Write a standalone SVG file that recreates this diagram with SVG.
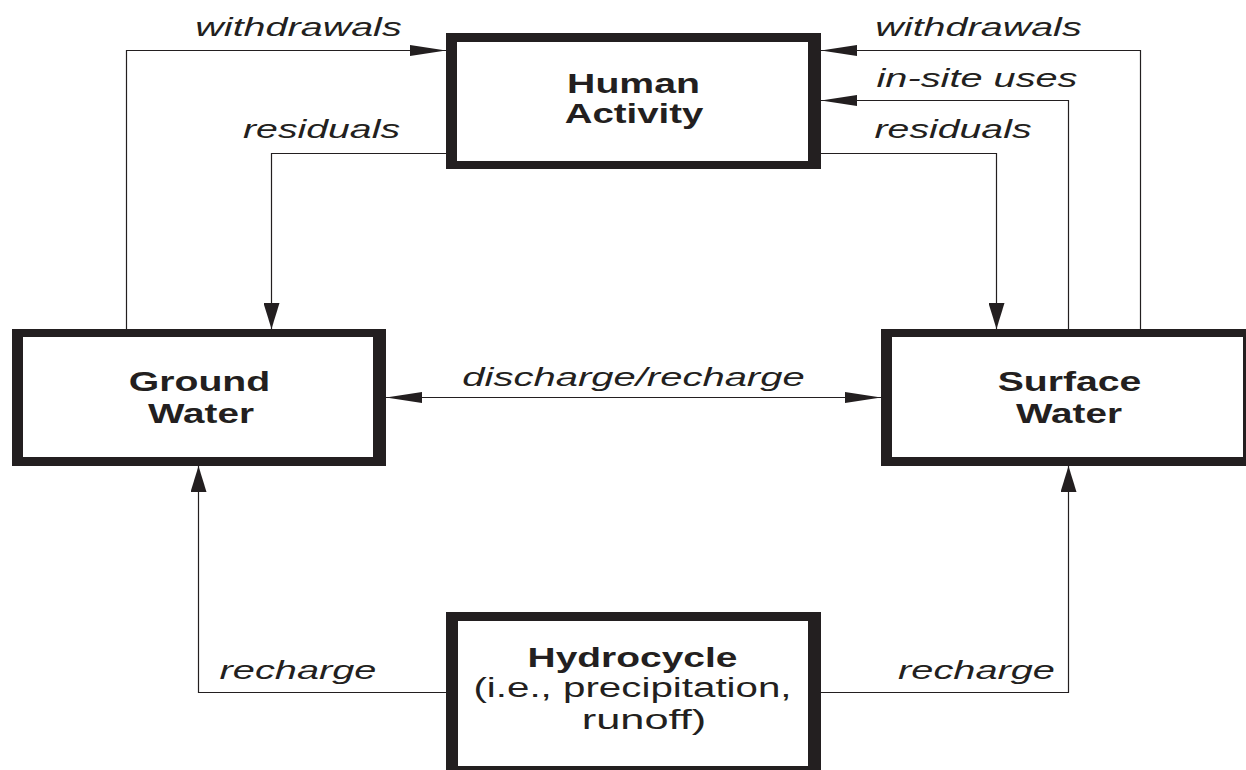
<svg xmlns="http://www.w3.org/2000/svg" width="1246" height="770" viewBox="0 0 1246 770">
<defs>
<style>
.box{fill:#231f20;fill-rule:evenodd}
text{text-anchor:middle;fill:#231f20;font-family:"Liberation Sans",Arial,Helvetica,sans-serif}
.lbl{font-style:italic;font-size:25px}
.bt{font-weight:bold;font-size:28px}
.rt{font-size:28px}
.c{fill:none;stroke:#231f20;stroke-width:1.2}
</style>
<marker id="ah" markerUnits="userSpaceOnUse" markerWidth="36" markerHeight="12" refX="36" refY="6" orient="auto-start-reverse">
<path d="M0,0.5 L36,6 L0,11.5 Z" fill="#231f20"/>
</marker>
<marker id="av" markerUnits="userSpaceOnUse" markerWidth="26" markerHeight="16" refX="26" refY="8" orient="auto">
<path d="M0,0 L26,8 L0,16 Z" fill="#231f20"/>
</marker>
</defs>
<rect width="1246" height="770" fill="#fff"/>

<g id="connectors">
<path class="c" d="M126.5,329 V50.5 H446" marker-end="url(#ah)"/>
<path class="c" d="M446,153.5 H271.5 V329" marker-end="url(#av)"/>
<path class="c" d="M1140.5,329 V50.5 H821" marker-end="url(#ah)"/>
<path class="c" d="M1068.5,329 V100.5 H821" marker-end="url(#ah)"/>
<path class="c" d="M821,153.5 H996.5 V329" marker-end="url(#av)"/>
<path class="c" d="M386,397.5 H881" marker-start="url(#ah)" marker-end="url(#ah)"/>
<path class="c" d="M446,692.5 H198.5 V466" marker-end="url(#av)"/>
<path class="c" d="M821,692.5 H1068.5 V466" marker-end="url(#av)"/>
<text class="lbl" transform="translate(298.5,36) scale(1.58,1)">withdrawals</text>
<text class="lbl" transform="translate(321.5,138) scale(1.57,1)">residuals</text>
<text class="lbl" transform="translate(978.5,36) scale(1.58,1)">withdrawals</text>
<text class="lbl" transform="translate(977,87) scale(1.59,1)">in-site uses</text>
<text class="lbl" transform="translate(953,138) scale(1.57,1)">residuals</text>
<text class="lbl" transform="translate(633.5,386) scale(1.6,1)">discharge/recharge</text>
<text class="lbl" transform="translate(298,679) scale(1.59,1)">recharge</text>
<text class="lbl" transform="translate(976.5,679) scale(1.59,1)">recharge</text>
</g>

<g id="human-activity">
<path class="box" d="M446,33 H821 V169 H446 Z M457,42 V161 H808 V42 Z"/>
<text class="bt" transform="translate(633.5,93) scale(1.4,1)">Human</text>
<text class="bt" transform="translate(634,123) scale(1.37,1)">Activity</text>
</g>

<g id="ground-water">
<path class="box" d="M12,329 H386 V466 H12 Z M23,337 V457 H373 V337 Z"/>
<text class="bt" transform="translate(199.5,391) scale(1.4,1)">Ground</text>
<text class="bt" transform="translate(201,423) scale(1.38,1)">Water</text>
</g>

<g id="surface-water">
<path class="box" d="M881,329 H1256 V466 H881 Z M892,337 V457 H1243 V337 Z"/>
<text class="bt" transform="translate(1069.5,391) scale(1.4,1)">Surface</text>
<text class="bt" transform="translate(1069,423) scale(1.38,1)">Water</text>
</g>

<g id="hydrocycle">
<path class="box" d="M446,612 H821 V776 H446 Z M458,621 V766 H808 V621 Z"/>
<text class="bt" transform="translate(632.5,667) scale(1.39,1)">Hydrocycle</text>
<text class="rt" transform="translate(632.5,697) scale(1.44,1)">(i.e., precipitation,</text>
<text class="rt" transform="translate(644,729) scale(1.55,1)">runoff)</text>
</g>
</svg>
